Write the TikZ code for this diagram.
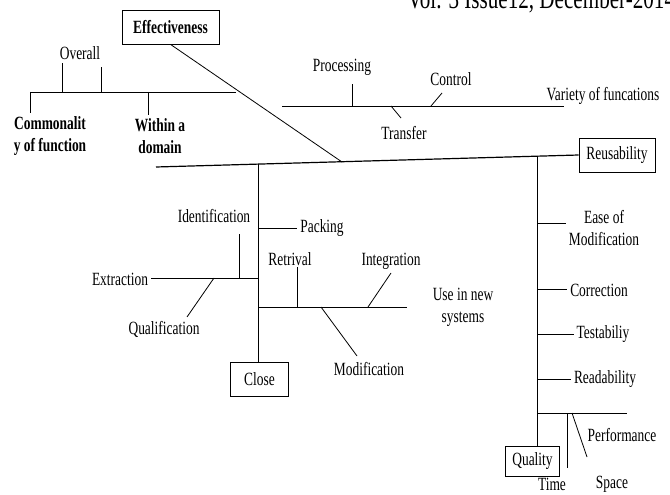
\documentclass[tikz,border=0pt]{standalone}
\usepackage{fontspec}
\setmainfont{Liberation Serif}[FakeStretch=0.72]

\begin{document}
\begin{tikzpicture}[x=0.75pt, y=-0.75pt,
    lbl/.style={inner sep=2pt, align=center, font=\fontsize{14}{16.5}\selectfont},
    boldlbl/.style={lbl, font=\fontsize{14}{16.5}\selectfont\bfseries},
    box/.style={rectangle, draw, line width=0.6pt, inner sep=0pt, font=\fontsize{14}{16.5}\selectfont},
    branch/.style={line width=0.6pt},
    spine/.style={line width=0.9pt}
]
\useasboundingbox (0,0) rectangle (670,495);

% page header
\node[anchor=base west, inner sep=0pt, font=\fontsize{22}{24}\selectfont] (hdr) at (407,9) {Vol. 3 Issue12, December-2014};

% boxes
\node[box, minimum width=72.75pt, minimum height=25.5pt, font=\fontsize{14}{16.5}\selectfont\bfseries] (eff) at (170.5,27) {Effectiveness};
\node[box, minimum width=57pt, minimum height=25.5pt] (reuse) at (617,155) {Reusability};
\node[box, minimum width=44pt, minimum height=26pt] (close) at (259.5,379.5) {Close};
\node[box, minimum width=41pt, minimum height=22pt] (quality) at (532.5,461.5) {Quality};

% labels
\node[lbl] (overall) at (80,53) {Overall};
\node[boldlbl] (common) at (50,136) {Commonalit\\y of function};
\node[boldlbl] (within) at (160,136) {Within a\\domain};
\node[lbl] (processing) at (342,67) {Processing};
\node[lbl] (control) at (451,79) {Control};
\node[lbl] (transfer) at (404,133) {Transfer};
\node[lbl] (variety) at (603,96) {Variety of funcations};
\node[lbl] (identification) at (214,216) {Identification};
\node[lbl] (packing) at (322,228) {Packing};
\node[lbl] (extraction) at (120,279) {Extraction};
\node[lbl] (qualification) at (164,329) {Qualification};
\node[lbl] (retrival) at (290,259) {Retrival};
\node[lbl] (integration) at (391,261) {Integration};
\node[lbl] (usenew) at (463,307) {Use in new\\systems};
\node[lbl] (modification) at (369,369) {Modification};
\node[lbl] (easemod) at (604,228) {Ease of\\Modification};
\node[lbl] (correction) at (599,290) {Correction};
\node[lbl] (testab) at (603,334) {Testabiliy};
\node[lbl] (readab) at (605,379) {Readability};
\node[lbl] (performance) at (622,435) {Performance};
\node[lbl] (time) at (552,484) {Time};
\node[lbl] (space) at (612,484) {Space};

% spine
\coordinate (spL) at (156,167);
\coordinate (spJ) at (342,162);
\draw[spine] (spL) -- (reuse.west);
\draw[branch] (eff.south) -- (spJ);

% effectiveness branch
\coordinate (tlL) at (30,92);
\coordinate (tlR) at (236,92);
\coordinate (ovA) at (62,92);
\coordinate (ovAt) at (62,63);
\coordinate (ovB) at (101,92);
\coordinate (ovBt) at (101,67);
\coordinate (comT) at (30,113);
\coordinate (witJ) at (148,92);
\coordinate (witT) at (148,115);
\draw[branch] (tlL) -- (tlR);
\draw[branch] (ovA) -- (ovAt);
\draw[branch] (ovB) -- (ovBt);
\draw[branch] (tlL) -- (comT);
\draw[branch] (witJ) -- (witT);

% variety branch
\coordinate (trL) at (282,106);
\coordinate (trR) at (564,106);
\coordinate (procJ) at (352,106);
\coordinate (procT) at (352,84);
\coordinate (tranJ) at (391,106);
\coordinate (tranT) at (401,118);
\coordinate (ctrlJ) at (431,106);
\coordinate (ctrlT) at (442,93);
\draw[branch] (trL) -- (trR);
\draw[branch] (procJ) -- (procT);
\draw[branch] (tranJ) -- (tranT);
\draw[branch] (ctrlJ) -- (ctrlT);

% close branch
\coordinate (clJ) at (258.5,164);
\coordinate (packJ) at (258.5,228);
\coordinate (idR) at (258.5,278);
\coordinate (idJ) at (239,278);
\coordinate (idT) at (239,234);
\coordinate (qualJ) at (214,278);
\coordinate (qualT) at (187,317);
\coordinate (useL) at (258.5,307);
\coordinate (useR) at (407,307);
\coordinate (retJ) at (297,307);
\coordinate (retT) at (297,267);
\coordinate (intJ) at (368,307);
\coordinate (intT) at (391,273);
\coordinate (modJ) at (321,307);
\coordinate (modT) at (357,356);
\draw[branch] (clJ) -- (clJ |- close.north);
\draw[branch] (packJ) -- (packJ -| packing.west);
\draw[branch] (idR) -- (idR -| extraction.east);
\draw[branch] (idJ) -- (idT);
\draw[branch] (qualJ) -- (qualT);
\draw[branch] (useL) -- (useR);
\draw[branch] (retJ) -- (retT);
\draw[branch] (intJ) -- (intT);
\draw[branch] (modJ) -- (modT);

% quality branch
\coordinate (rbJ) at (537,156);
\coordinate (emJ) at (537,223);
\coordinate (coJ) at (537,289);
\coordinate (teJ) at (537,334);
\coordinate (reJ) at (537,379);
\coordinate (peL) at (537,413);
\coordinate (peR) at (627,413);
\coordinate (timeJ) at (567,413);
\coordinate (timeT) at (567,468);
\coordinate (perJ) at (572,413);
\coordinate (perT) at (587,457);
\draw[branch] (rbJ) -- (rbJ |- quality.north);
\draw[branch] (emJ) -- (emJ -| easemod.west);
\draw[branch] (coJ) -- (coJ -| correction.west);
\draw[branch] (teJ) -- (teJ -| testab.west);
\draw[branch] (reJ) -- (reJ -| readab.west);
\draw[branch] (peL) -- (peR);
\draw[branch] (timeJ) -- (timeT);
\draw[branch] (perJ) -- (perT);
\end{tikzpicture}
\end{document}
